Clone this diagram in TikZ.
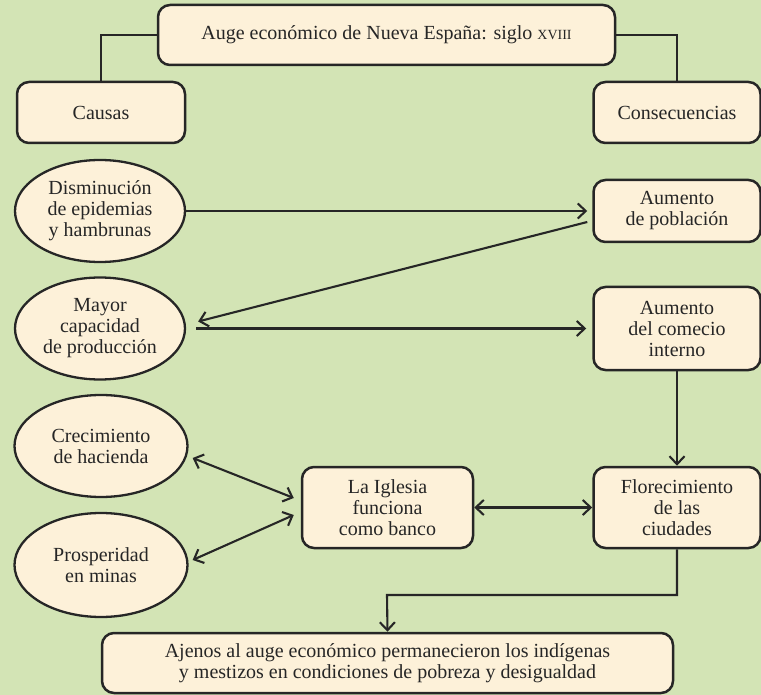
\documentclass[tikz,border=0pt]{standalone}
\usepackage{fontspec}
\setmainfont{Liberation Serif}
\usetikzlibrary{arrows.meta,shapes.geometric}
\definecolor{bgGreen}{HTML}{D3E4B5}
\definecolor{boxCream}{HTML}{FDF1D9}
\definecolor{ink}{HTML}{262626}
\begin{document}
\begin{tikzpicture}[x=1pt,y=-1pt,
  every node/.style={font=\fontsize{20}{21}\selectfont, text=ink},
  rbox/.style={draw=ink, fill=boxCream, line width=2.5pt, rounded corners=12pt, align=center, inner sep=0pt},
  ell/.style={ellipse, draw=ink, fill=boxCream, line width=2.3pt, align=center, inner sep=0pt, inner xsep=-6pt, minimum width=170pt, minimum height=102pt},
  conn/.style={draw=ink, line width=2.1pt},
  tipb/.tip={Straight Barb[length=8pt,width=15pt,line width=2.1pt]},
  arr/.style={conn, -tipb},
  darr/.style={conn, tipb-tipb}]
\useasboundingbox (0,0) rectangle (761,695);
\fill[bgGreen] (0,0) rectangle (761,695);

\node[rbox, minimum width=457pt, minimum height=60pt] (top) at (386.5,35) {Auge económico de Nueva España: siglo {\fontsize{14}{14}\selectfont XVIII}};
\node[rbox, minimum width=168pt, minimum height=61pt] (causas) at (101,112.5) {Causas};
\node[rbox, minimum width=167pt, minimum height=61pt] (consec) at (677,112.5) {Consecuencias};

\node[ell] (ell1) at (100,211) {Disminución\\de epidemias\\y hambrunas};
\node[ell] (ell2) at (100,328.5) {Mayor\\capacidad\\de producción};
\node[ell, minimum width=173pt] (ell3) at (101,446) {Crecimiento\\de hacienda};
\node[ell, minimum width=173pt, minimum height=104pt] (ell4) at (101,565) {Prosperidad\\en minas};

\node[rbox, minimum width=167pt, minimum height=62pt] (pob) at (677,211) {Aumento\\de población};
\node[rbox, minimum width=167pt, minimum height=83pt] (com) at (677,328.5) {Aumento\\del comecio\\interno};
\node[rbox, minimum width=167pt, minimum height=81pt] (flo) at (677,507.5) {Florecimiento\\de las\\ciudades};
\node[rbox, minimum width=171pt, minimum height=81pt] (igl) at (387.5,507.5) {La Iglesia\\funciona\\como banco};
\node[rbox, minimum width=571pt, minimum height=60pt] (bot) at (387.5,663) {Ajenos al auge económico permanecieron los indígenas\\y mestizos en condiciones de pobreza y desigualdad};

\draw[conn] (top.west) -| (causas.north);
\draw[conn] (top.east) -| (consec.north);
\draw[arr, shorten >=5pt] (ell1.east) -- (pob.west);
\draw[arr] ([xshift=-5pt,yshift=-11pt]pob.west) -- ([xshift=12pt,yshift=7pt]ell2.east);
\draw[arr] ([xshift=10pt]ell2.east) -- ([xshift=-6pt]com.west);
\draw[arr] (com.south) -- (flo.north);
\draw[darr] ([xshift=4pt,yshift=-12pt]ell3.east) -- ([xshift=-7pt,yshift=9.5pt]igl.west);
\draw[darr] ([xshift=4pt,yshift=5pt]ell4.east) -- ([xshift=-7pt,yshift=-7.5pt]igl.west);
\draw[darr] (igl.east) -- (flo.west);
\coordinate (jog) at (387,595);
\draw[arr] (flo.south) |- (jog) -- (bot.north);
\end{tikzpicture}
\end{document}
